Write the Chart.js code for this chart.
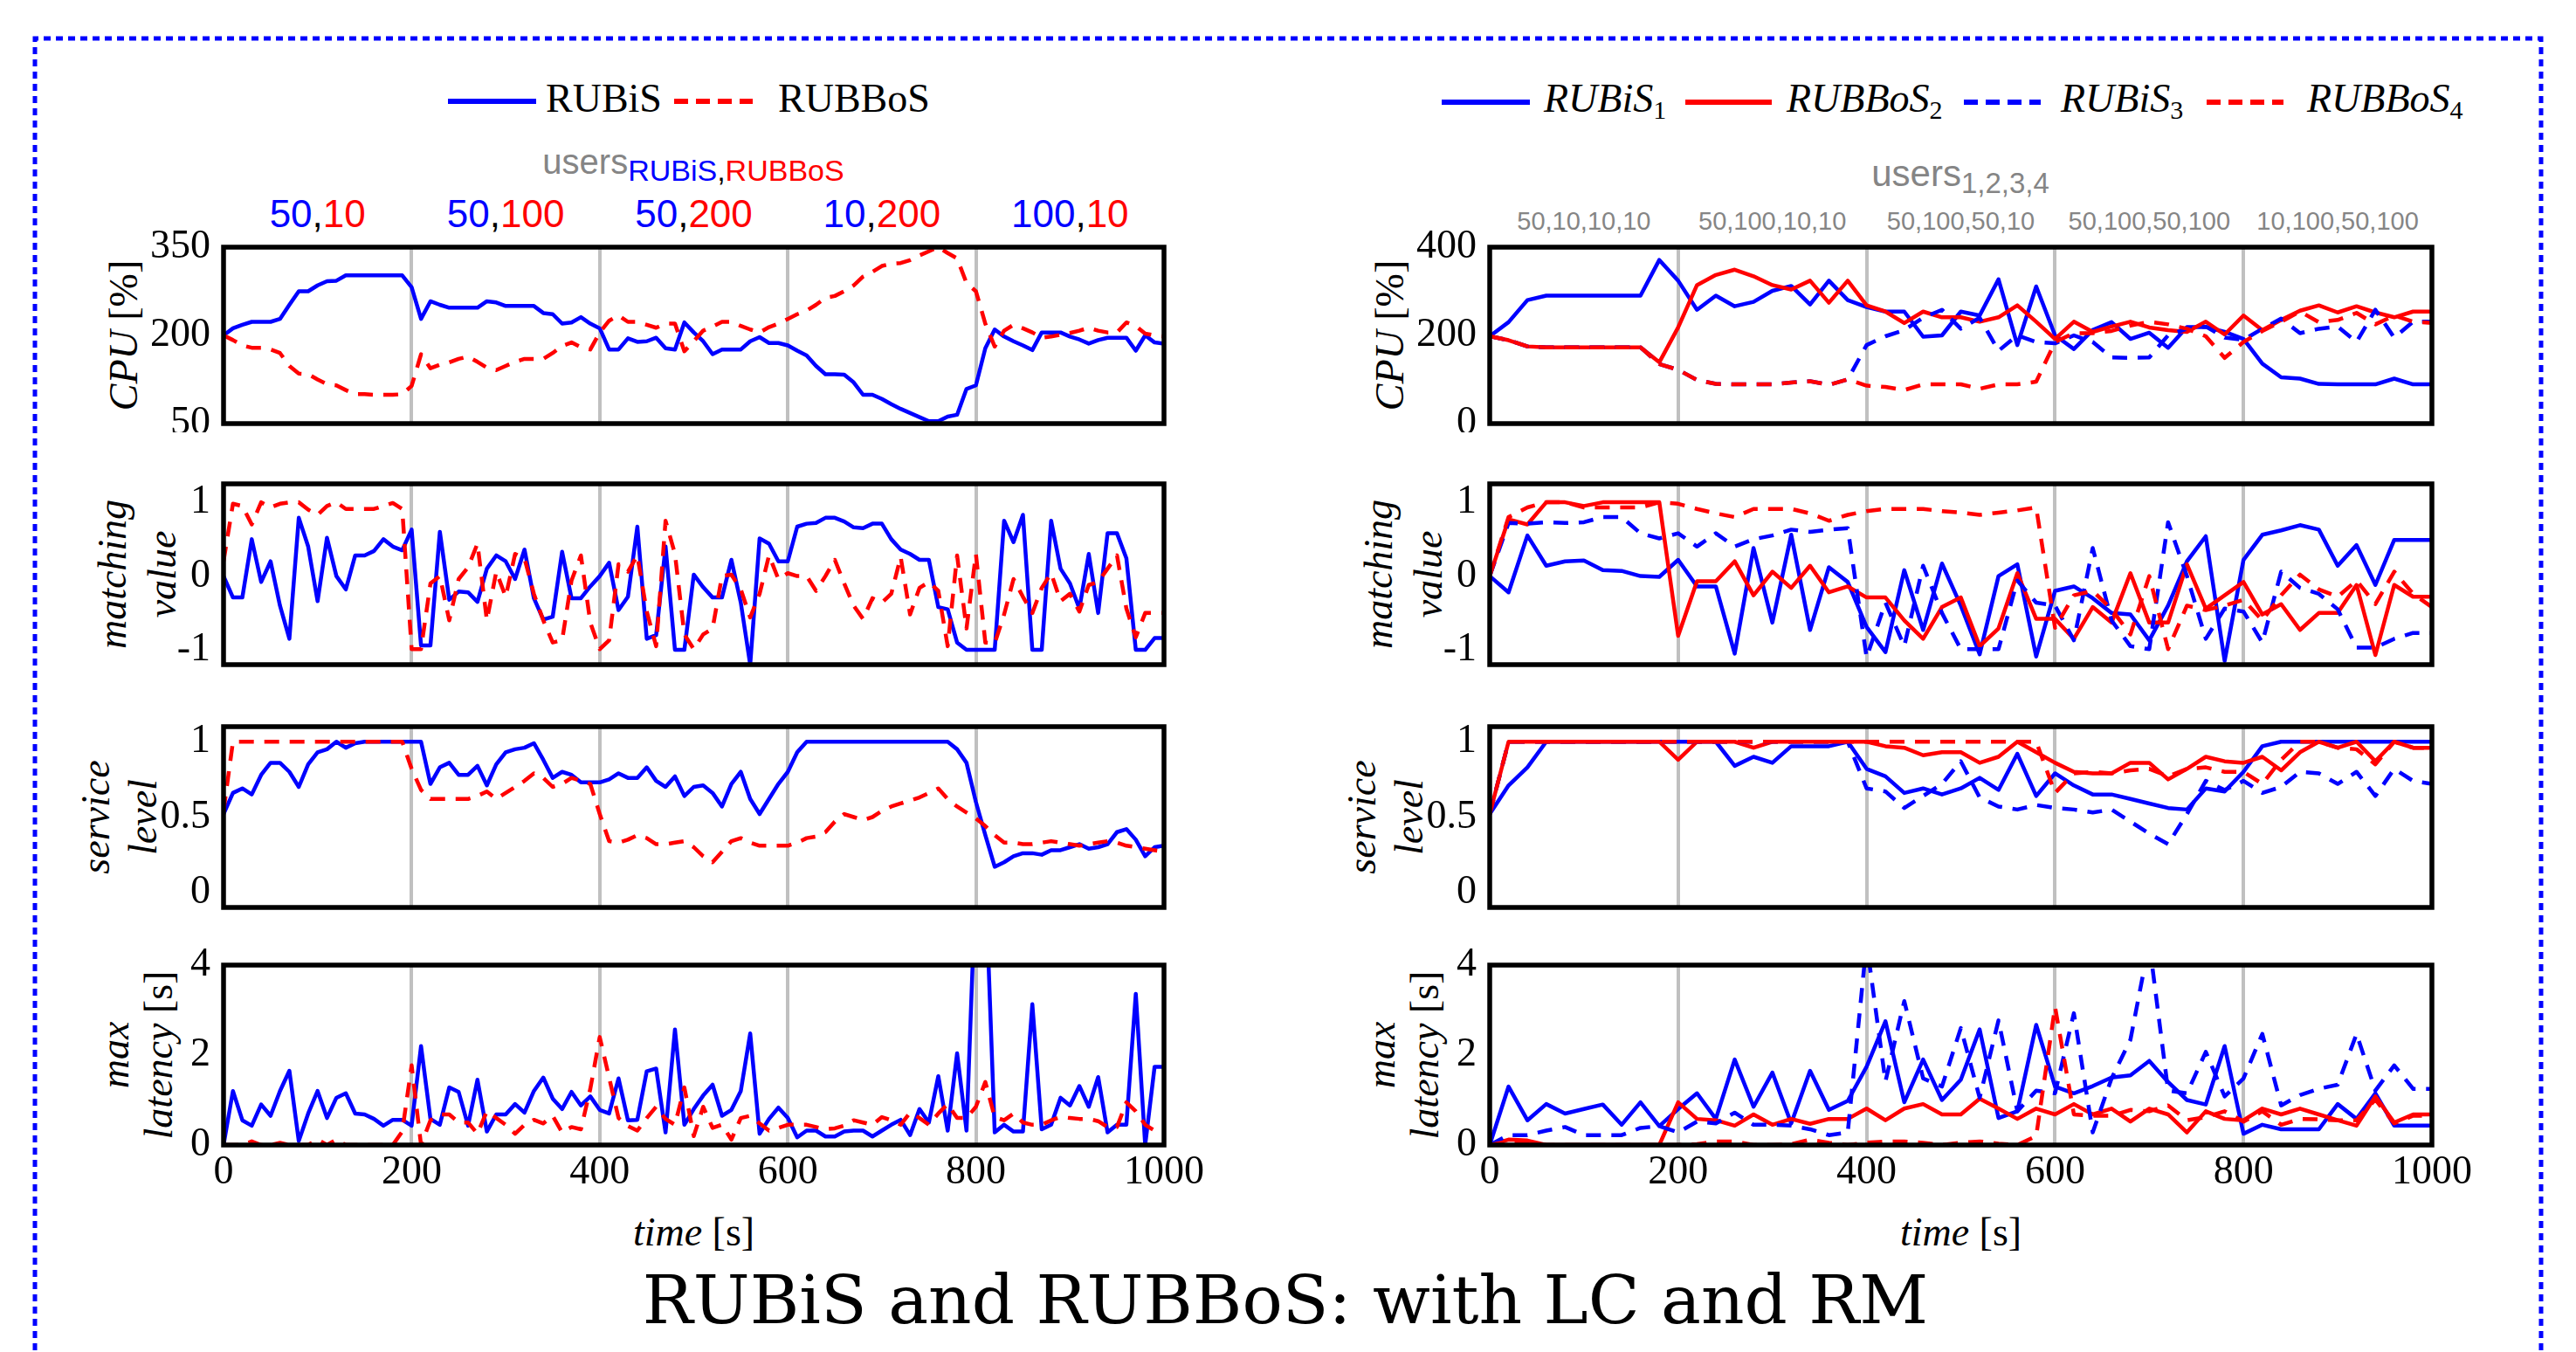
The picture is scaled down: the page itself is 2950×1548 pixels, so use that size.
<!DOCTYPE html>
<html><head><meta charset="utf-8">
<script src="https://cdn.jsdelivr.net/npm/chart.js@4.4.1/dist/chart.umd.min.js"></script>
<style>
html,body{margin:0;padding:0;background:#fff;}
body{width:2950px;height:1548px;position:relative;overflow:hidden;}
#overlay{position:absolute;left:0;top:0;}
</style></head>
<body>
<svg id="overlay" width="2950" height="1548" xmlns="http://www.w3.org/2000/svg"></svg>
<script>
// ---------------- data ----------------
const timeLeft = [0,10,20,30,40,50,60,70,80,90,100,110,120,130,140,150,160,170,180,190,200,210,220,230,240,250,260,270,280,290,300,310,320,330,340,350,360,370,380,390,400,410,420,430,440,450,460,470,480,490,500,510,520,530,540,550,560,570,580,590,600,610,620,630,640,650,660,670,680,690,700,710,720,730,740,750,760,770,780,790,800,810,820,830,840,850,860,870,880,890,900,910,920,930,940,950,960,970,980,990,1000];
const timeRight = [0,20,40,60,80,100,120,140,160,180,200,220,240,260,280,300,320,340,360,380,400,420,440,460,480,500,520,540,560,580,600,620,640,660,680,700,720,740,760,780,800,820,840,860,880,900,920,940,960,980,1000];

const xTicks = [0,200,400,600,800,1000];
const xTickLabels = ['0','200','400','600','800','1000'];
const cpuTicksLeft = [50,200,350];
const cpuTickLabelsLeft = ['50','200','350'];
const cpuTicksRight = [0,200,400];
const cpuTickLabelsRight = ['0','200','400'];
const matchTicks = [-1,0,1];
const matchTickLabels = ['-1','0','1'];
const serviceTicks = [0,0.5,1];
const serviceTickLabels = ['0','0.5','1'];
const latencyTicks = [0,2,4];
const latencyTickLabels = ['0','2','4'];

const usersLeft = [['50','10'],['50','100'],['50','200'],['10','200'],['100','10']];
const usersRight = ['50,10,10,10','50,100,10,10','50,100,50,10','50,100,50,100','10,100,50,100'];
const phaseCenters = [100,300,500,700,900];

// left panel (RUBiS / RUBBoS), every 10 s
const cpuRubisL = [
200,212,218,223,223,223,228,252,275,275,
285,292,293,302,302,302,302,302,302,302,
282,228,258,252,247,247,247,247,258,256,
250,250,250,250,238,236,220,222,231,220,
212,176,176,195,189,190,196,178,176,222,
205,190,168,176,176,176,190,197,187,187,
183,174,166,148,134,134,133,120,99,99,
92,83,75,68,61,54,54,62,65,109,
115,178,210,198,190,183,175,205,205,205,
198,193,186,192,196,196,196,174,200,188,
186];
const cpuRubbosL = [
200,192,183,179,179,176,170,148,135,134,
125,117,115,107,100,100,99,99,99,100,
114,168,144,150,154,160,164,155,145,141,
148,155,160,160,160,170,182,188,180,176,
205,225,234,223,223,218,213,220,220,173,
190,208,215,223,223,216,210,205,214,220,
228,236,242,252,264,267,275,285,300,308,
318,322,323,328,336,343,350,340,331,289,
275,220,181,208,218,212,205,196,198,201,
204,208,213,208,205,205,222,216,203,200,
198];
const matchRubisL = [
0,-0.29,-0.29,0.5,-0.08,0.2,-0.4,-0.85,0.79,0.4,
-0.34,0.52,0,-0.18,0.28,0.28,0.34,0.5,0.4,0.35,
0.63,-0.94,-0.94,0.6,-0.32,-0.21,-0.22,-0.35,0.1,0.28,
0.2,-0.04,0.36,-0.3,-0.59,-0.55,0.33,-0.3,-0.3,-0.14,
0,0.18,-0.46,-0.28,0.67,-0.85,-0.8,0.4,-1,-1,
0.02,-0.15,-0.29,-0.29,0.22,-0.36,-1.2,0.51,0.44,0.2,
0.2,0.67,0.71,0.72,0.79,0.79,0.74,0.66,0.65,0.71,
0.71,0.5,0.36,0.3,0.22,0.22,-0.42,-0.45,-0.9,-1,
-1,-1,-1,0.75,0.46,0.83,-1,-1,0.75,0.1,
-0.1,-0.44,0.3,-0.5,0.58,0.58,0.24,-1,-1,-0.84,
-0.84];
const matchRubbosL = [
0.2,0.98,0.95,0.7,1,0.93,0.98,1,1,0.9,
0.83,0.95,1,0.91,0.91,0.91,0.91,0.95,0.99,0.91,
-0.99,-0.99,-0.1,0,-0.6,-0.04,0.12,0.44,-0.6,0.06,
-0.28,0.3,0.24,-0.24,-0.6,-0.9,-0.87,-0.06,0.28,-0.63,
-0.99,-0.87,0.16,0.06,0.28,-0.48,-0.95,0.75,0.3,-0.79,
-0.99,-0.79,-0.71,0,0.02,-0.18,-0.56,-0.24,0.28,-0.04,
0.04,0,0,-0.2,0,0.22,-0.1,-0.4,-0.58,-0.3,
-0.36,-0.24,0.26,-0.52,-0.16,-0.08,-0.2,-0.95,0.28,-0.71,
0.3,-0.9,-0.91,-0.52,-0.04,-0.28,-0.5,-0.16,0.04,-0.34,
-0.24,-0.48,-0.12,-0.08,0.1,0.28,-0.44,-0.83,-0.5,-0.5,
-0.5];
const serviceRubisL = [
0.52,0.66,0.69,0.65,0.78,0.86,0.86,0.8,0.7,0.85,
0.93,0.95,1,0.96,0.99,1,1,1,1,1,
1,1,0.72,0.83,0.86,0.78,0.78,0.84,0.71,0.85,
0.93,0.95,0.96,0.99,0.88,0.76,0.8,0.78,0.73,0.73,
0.73,0.75,0.79,0.76,0.76,0.83,0.74,0.7,0.77,0.64,
0.7,0.71,0.66,0.57,0.72,0.8,0.62,0.52,0.62,0.72,
0.8,0.93,1,1,1,1,1,1,1,1,
1,1,1,1,1,1,1,1,0.95,0.86,
0.6,0.38,0.17,0.2,0.24,0.26,0.26,0.25,0.28,0.28,
0.3,0.32,0.29,0.3,0.32,0.4,0.42,0.35,0.24,0.3,
0.31];
const serviceRubbosL = [
0.54,1,1,1,1,1,1,1,1,1,
1,1,1,1,1,1,1,1,1,1,
0.82,0.68,0.62,0.62,0.62,0.62,0.62,0.64,0.67,0.62,
0.66,0.7,0.74,0.79,0.76,0.7,0.72,0.76,0.74,0.72,
0.52,0.34,0.33,0.35,0.38,0.36,0.32,0.32,0.33,0.34,
0.3,0.24,0.2,0.27,0.34,0.36,0.33,0.31,0.31,0.31,
0.31,0.33,0.36,0.37,0.4,0.47,0.52,0.5,0.48,0.5,
0.54,0.57,0.59,0.61,0.63,0.66,0.69,0.62,0.57,0.53,
0.49,0.44,0.38,0.33,0.33,0.32,0.32,0.33,0.34,0.33,
0.32,0.31,0.32,0.33,0.34,0.33,0.31,0.3,0.29,0.28,
0.27];
const latencyRubisL = [
0,1.2,0.55,0.43,0.9,0.65,1.2,1.65,0.09,0.7,
1.2,0.6,1.05,1.15,0.7,0.68,0.58,0.43,0.56,0.56,
0.43,2.2,0.58,0.45,1.28,1.18,0.43,1.45,0.3,0.68,
0.68,0.91,0.72,1.2,1.5,1.03,0.8,1.18,0.88,1.08,
0.78,0.7,1.48,0.55,0.56,1.64,1.7,0.28,2.57,0.45,
0.8,1.1,1.34,0.65,0.78,1.2,2.48,0.25,0.58,0.83,
0.6,0.17,0.32,0.32,0.19,0.19,0.3,0.32,0.32,0.19,
0.32,0.45,0.56,0.22,0.8,0.5,1.53,0.32,2.04,0.32,
6,6,0.28,0.45,0.3,0.3,3.13,0.35,0.45,1.05,
0.88,1.31,0.85,1.51,0.28,0.45,0.45,3.36,0,1.74,
1.74];
const latencyRubbosL = [
0,0,0,0.08,0,0,0.05,0,0,0,
0.12,0,0.12,0,0,0,0,0,0,0.3,
1.77,0,0.55,0.68,0.68,0.5,0.5,0.25,0.75,0.6,
0.45,0.25,0.45,0.56,0.48,0.65,0.28,0.4,0.35,1.25,
2.4,1.5,0.6,0.42,0.32,0.6,0.85,0.58,0.45,1.28,
0.2,0.85,0.38,0.45,0.12,0.6,0.65,0.48,0.32,0.38,
0.45,0.45,0.45,0.4,0.35,0.37,0.43,0.55,0.5,0.45,
0.62,0.55,0.45,0.72,0.6,0.45,0.7,0.91,0.6,0.6,
0.85,1.4,0.62,0.55,0.7,0.5,0.45,0.45,0.55,0.62,
0.6,0.58,0.58,0.53,0.4,0.4,0.95,0.75,0.45,0.32,
0.32];

// right panel (4 applications), every 20 s
const cpuR1 = [
198,230,280,290,290,290,290,290,290,371,
324,258,290,266,276,301,312,270,324,280,
264,254,254,197,200,254,245,327,178,311,
200,169,212,230,192,206,172,219,219,208,
192,136,105,102,90,89,89,89,102,89,
89];
const cpuR2 = [
198,189,175,173,173,173,173,173,173,139,
218,314,337,349,334,314,304,324,274,324,
268,254,228,254,241,241,231,241,268,231,
192,231,208,220,231,218,212,208,231,202,
245,212,235,256,268,252,266,252,241,254,
254];
const cpuR3 = [
198,189,175,173,173,173,173,173,173,135,
122,99,90,89,89,89,93,96,88,100,
178,198,212,240,258,215,240,165,200,185,
182,200,185,150,149,150,200,215,220,195,
190,215,238,205,215,220,185,258,195,231,
231];
const cpuR4 = [
198,189,175,173,173,173,173,173,173,135,
122,99,90,89,89,89,93,96,88,100,
86,83,76,89,89,89,79,89,89,95,
185,205,205,210,222,231,225,215,198,149,
185,210,231,254,230,235,251,225,245,231,
228];
const matchR1 = [
0,-0.22,0.55,0.14,0.2,0.21,0.08,0.07,0,-0.01,
0.22,-0.14,-0.14,-1.05,0.38,-0.63,0.56,-0.73,0.12,-0.08,
-0.69,-1.03,0.08,-0.73,0.17,-0.4,-1.06,0,0.16,-1.09,
-0.2,-0.14,-0.3,-0.5,-0.52,-0.87,-0.4,0.2,0.54,-1.15,
0.22,0.56,0.62,0.69,0.63,0.14,0.42,-0.12,0.49,0.49,
0.49];
const matchR2 = [
0,0.77,0.7,1,1,0.95,1,1,1,1,
-0.81,-0.07,-0.07,0.2,-0.26,0.06,-0.16,0.14,-0.22,-0.14,
-0.29,-0.29,-0.6,-0.85,-0.42,-0.29,-0.95,-0.71,0.04,-0.58,
-0.58,-0.85,-0.42,-0.63,0.04,-0.63,-0.63,0.16,-0.44,-0.26,
-0.08,-0.52,-0.38,-0.73,-0.5,-0.5,-0.12,-1.07,-0.12,-0.28,
-0.28];
const matchR3 = [
0,0.72,0.71,0.73,0.72,0.73,0.8,0.8,0.58,0.51,
0.58,0.4,0.58,0.4,0.5,0.55,0.63,0.6,0.63,0.65,
-1.1,-0.36,-0.95,0.14,-0.5,-0.99,-0.99,-0.99,-0.06,-0.36,
-0.4,-0.87,0.38,-0.6,-0.95,-0.99,0.73,0,-0.85,-0.44,
-0.48,-0.9,0.06,-0.16,-0.24,-0.45,-0.97,-0.97,-0.85,-0.77,
-0.77];
const matchR4 = [
0,0.8,0.93,1,1,0.93,0.93,0.93,0.93,1,
0.98,0.91,0.85,0.8,0.91,0.91,0.91,0.85,0.75,0.83,
0.88,0.91,0.91,0.91,0.88,0.86,0.83,0.86,0.89,0.93,
-0.7,-0.26,-0.2,-0.45,-0.79,0,-0.99,-0.4,-0.46,-0.4,
-0.32,-0.6,-0.26,0.02,-0.18,-0.28,-0.06,-0.38,0.06,-0.24,
-0.42];
const serviceR1 = [
0.52,0.71,0.83,1,1,1,1,1,1,1,
1,1,1,0.84,0.9,0.86,0.97,0.97,0.97,1,
0.82,0.77,0.66,0.69,0.65,0.69,0.76,0.68,0.92,0.64,
0.79,0.71,0.65,0.65,0.62,0.59,0.56,0.55,0.69,0.67,
0.8,0.97,1,1,1,1,1,1,1,1,
1];
const serviceR2 = [
0.52,1,1,1,1,1,1,1,1,1,
0.88,1,1,1,0.96,1,1,1,1,1,
1,0.97,0.96,0.91,0.93,0.93,0.86,0.9,1,0.93,
0.86,0.8,0.79,0.79,0.86,0.86,0.75,0.82,0.9,0.87,
0.86,0.9,0.81,0.93,1,0.96,1,0.87,1,0.96,
0.96];
const serviceR3 = [
0.52,1,1,1,1,1,1,1,1,1,
1,1,1,1,1,1,1,1,1,1,
0.69,0.67,0.56,0.64,0.72,0.87,0.63,0.57,0.55,0.58,
0.56,0.55,0.53,0.55,0.47,0.39,0.32,0.52,0.74,0.68,
0.74,0.66,0.7,0.8,0.79,0.72,0.8,0.64,0.82,0.74,
0.72];
const serviceR4 = [
0.52,1,1,1,1,1,1,1,1,1,
1,1,1,1,1,1,1,1,1,1,
1,1,1,1,1,1,1,1,1,1,
0.66,0.79,0.8,0.79,0.81,0.82,0.77,0.82,0.83,0.8,
0.8,0.72,0.88,1,1,0.96,0.95,0.85,1,0.96,
0.96];
const latencyR1 = [
0,1.3,0.55,0.91,0.7,0.8,0.9,0.45,0.95,0.42,
0.8,1.15,0.58,1.9,0.85,1.61,0.48,1.65,0.78,0.98,
1.74,2.75,0.95,1.9,1.0,1.45,2.57,0.6,0.75,2.67,
1.3,1.15,1.31,1.5,1.55,1.87,1.4,1.0,0.9,2.2,
0.25,0.45,0.35,0.35,0.35,0.91,0.58,1.15,0.43,0.43,
0.43];
const latencyR2 = [
0,0.12,0.1,0,0,0,0,0,0,0,
0.95,0.58,0.55,0.43,0.68,0.45,0.58,0.47,0.58,0.58,
0.81,0.55,0.81,0.91,0.68,0.68,1.03,0.81,0.58,0.81,
0.68,0.91,0.68,0.81,0.52,0.81,0.68,0.28,0.75,0.58,
0.55,0.81,0.68,0.81,0.68,0.55,0.43,1.08,0.5,0.68,
0.68];
const latencyR3 = [
0,0.22,0.22,0.32,0.4,0.22,0.22,0.22,0.38,0.42,
0.28,0.52,0.48,0.72,0.45,0.45,0.43,0.35,0.22,0.28,
4.5,1.41,3.2,1.48,1.3,2.6,1.05,2.77,0.75,1.21,
1.15,2.93,0.28,1.48,2.34,4.5,1.21,1.15,2.07,1.08,
1.48,2.47,0.88,1.11,1.25,1.34,2.47,1.21,1.77,1.25,
1.25];
const latencyR4 = [
0,0.08,0.04,0,0,0,0,0,0,0,
0,0.02,0.08,0.08,0,0,0.02,0.12,0.05,0,
0.05,0.08,0.08,0.05,0,0.05,0.08,0.03,0,0.2,
3.07,0.68,0.65,0.65,0.78,0.75,0.88,0.55,0.62,0.75,
0.52,0.75,0.45,0.58,0.57,0.55,0.55,1.01,0.48,0.65,
0.65];

// ---------------- layout ----------------
const BLUE = '#0000ff', RED = '#ff0000';
const COLS = { L: {plotL: 256, plotR: 1333}, R: {plotL: 1706, plotR: 2785} };
const ROWS = [[283, 485], [554, 761], [832, 1039], [1105, 1311]];
const Y_AXIS_W = 256, PAD_TOP = 40, PAD_RIGHT = 80;
const SERIF = 'Liberation Serif';

const framePlugin = {
  id: 'frame',
  afterDatasetsDraw(chart) {
    const {ctx, chartArea: a} = chart;
    ctx.save();
    ctx.strokeStyle = '#000';
    ctx.lineWidth = 5.5;
    ctx.strokeRect(a.left, a.top, a.right - a.left, a.bottom - a.top);
    ctx.restore();
  }
};

function series(times, values, color, dashed, order) {
  return {
    data: times.map((t, i) => ({x: t, y: values[i]})),
    borderColor: color,
    borderWidth: 4.5,
    borderDash: dashed ? [17, 12] : [],
    borderJoinStyle: 'round',
    borderCapStyle: 'butt',
    pointRadius: 0,
    tension: 0,
    fill: false,
    order: order
  };
}

function makePlot(col, row, yMin, yMax, yTicks, yLabels, datasets) {
  const c = COLS[col];
  const [rt, rb] = ROWS[row];
  const isBottom = row === 3;
  const xH = isBottom ? 90 : 10;
  const left = c.plotL - Y_AXIS_W, top = rt - PAD_TOP;
  const width = c.plotR - left + PAD_RIGHT, height = rb - rt + PAD_TOP + xH;
  const canvas = document.createElement('canvas');
  canvas.width = width; canvas.height = height;
  canvas.style.cssText = `position:absolute;left:${left}px;top:${top}px;width:${width}px;height:${height}px;`;
  document.body.appendChild(canvas);
  new Chart(canvas, {
    type: 'line',
    data: {datasets},
    options: {
      responsive: false, animation: false, devicePixelRatio: 1, events: [],
      layout: {autoPadding: false, padding: {left: 0, top: PAD_TOP, right: PAD_RIGHT, bottom: 0}},
      plugins: {legend: {display: false}, tooltip: {enabled: false}},
      scales: {
        x: {
          type: 'linear', position: 'bottom', min: 0, max: 1000,
          afterBuildTicks: s => { s.ticks = xTicks.map(v => ({value: v})); },
          ticks: {display: isBottom, autoSkip: false, maxRotation: 0, padding: 4, color: '#000',
                  font: {family: SERIF, size: 46},
                  callback: (v, i) => xTickLabels[i]},
          grid: {color: '#c0c0c0', lineWidth: 4, drawTicks: false},
          border: {display: false},
          afterFit: s => { s.height = xH; s.paddingLeft = 0; s.paddingRight = 0; }
        },
        y: {
          type: 'linear', position: 'left', min: yMin, max: yMax,
          afterBuildTicks: s => { s.ticks = yTicks.map(v => ({value: v})); },
          ticks: {padding: 15, color: '#000', font: {family: SERIF, size: 46},
                  callback: (v, i) => yLabels[i]},
          grid: {display: false, drawTicks: false},
          border: {display: false},
          afterFit: s => { s.width = Y_AXIS_W; s.paddingTop = 0; s.paddingBottom = 0; }
        }
      }
    },
    plugins: [framePlugin]
  });
}

// left panel: blue below, red dashed on top
makePlot('L', 0, 50, 350, cpuTicksLeft, cpuTickLabelsLeft,
  [series(timeLeft, cpuRubisL, BLUE, false, 1), series(timeLeft, cpuRubbosL, RED, true, 0)]);
makePlot('L', 1, -1.2, 1.25, matchTicks, matchTickLabels,
  [series(timeLeft, matchRubisL, BLUE, false, 1), series(timeLeft, matchRubbosL, RED, true, 0)]);
makePlot('L', 2, -0.1, 1.1, serviceTicks, serviceTickLabels,
  [series(timeLeft, serviceRubisL, BLUE, false, 1), series(timeLeft, serviceRubbosL, RED, true, 0)]);
makePlot('L', 3, 0, 4, latencyTicks, latencyTickLabels,
  [series(timeLeft, latencyRubisL, BLUE, false, 1), series(timeLeft, latencyRubbosL, RED, true, 0)]);

function rightSets(a, b, c, d) {
  return [series(timeRight, a, BLUE, false, 3), series(timeRight, b, RED, false, 2),
          series(timeRight, c, BLUE, true, 1), series(timeRight, d, RED, true, 0)];
}
makePlot('R', 0, 0, 400, cpuTicksRight, cpuTickLabelsRight, rightSets(cpuR1, cpuR2, cpuR3, cpuR4));
makePlot('R', 1, -1.2, 1.25, matchTicks, matchTickLabels, rightSets(matchR1, matchR2, matchR3, matchR4));
makePlot('R', 2, -0.1, 1.1, serviceTicks, serviceTickLabels, rightSets(serviceR1, serviceR2, serviceR3, serviceR4));
makePlot('R', 3, 0, 4, latencyTicks, latencyTickLabels, rightSets(latencyR1, latencyR2, latencyR3, latencyR4));

// ---------------- annotations (SVG text) ----------------
const svg = document.getElementById('overlay');
let h = '';
// dotted frame
h += `<path d="M40,1560 L40,44 L2910,44 L2910,1560" fill="none" stroke="${BLUE}" stroke-width="5" stroke-dasharray="8 6"/>`;
// left legend
h += `<line x1="513" y1="116" x2="614" y2="116" stroke="${BLUE}" stroke-width="6"/>`;
h += `<text x="625" y="128" font-family="${SERIF}" font-size="46" fill="#000">RUBiS</text>`;
h += `<line x1="772" y1="116" x2="862" y2="116" stroke="${RED}" stroke-width="6" stroke-dasharray="16 9"/>`;
h += `<text x="891" y="128" font-family="${SERIF}" font-size="46" fill="#000">RUBBoS</text>`;
// right legend
const rLeg = [
  {x1: 1651, x2: 1752, tx: 1768, c: BLUE, d: false, name: 'RUBiS', sub: '1'},
  {x1: 1930, x2: 2029, tx: 2046, c: RED, d: false, name: 'RUBBoS', sub: '2'},
  {x1: 2249, x2: 2337, tx: 2360, c: BLUE, d: true, name: 'RUBiS', sub: '3'},
  {x1: 2527, x2: 2615, tx: 2642, c: RED, d: true, name: 'RUBBoS', sub: '4'}
];
rLeg.forEach(l => {
  h += `<line x1="${l.x1}" y1="117" x2="${l.x2}" y2="117" stroke="${l.c}" stroke-width="6"${l.d ? ' stroke-dasharray="16 9"' : ''}/>`;
  h += `<text x="${l.tx}" y="128" font-family="${SERIF}" font-size="46" font-style="italic" fill="#000">${l.name}<tspan font-size="30" font-style="normal" dy="8">${l.sub}</tspan></text>`;
});
// users headers
h += `<text x="794" y="199" text-anchor="middle" font-family="Liberation Sans" font-size="40" fill="#858585">users<tspan font-size="34" dy="8" fill="${BLUE}">RUBiS</tspan><tspan font-size="34" fill="#000">,</tspan><tspan font-size="34" fill="${RED}">RUBBoS</tspan></text>`;
h += `<text x="2245" y="213" text-anchor="middle" font-family="Liberation Sans" font-size="42" fill="#858585">users<tspan font-size="33" dy="8">1,2,3,4</tspan></text>`;
// phase labels
const xL = t => COLS.L.plotL + (COLS.L.plotR - COLS.L.plotL) * t / 1000;
const xR = t => COLS.R.plotL + (COLS.R.plotR - COLS.R.plotL) * t / 1000;
usersLeft.forEach((u, i) => {
  h += `<text x="${xL(phaseCenters[i])}" y="260" text-anchor="middle" font-family="Liberation Sans" font-size="44"><tspan fill="${BLUE}">${u[0]}</tspan><tspan fill="#000">,</tspan><tspan fill="${RED}">${u[1]}</tspan></text>`;
});
usersRight.forEach((u, i) => {
  h += `<text x="${xR(phaseCenters[i])}" y="263" text-anchor="middle" font-family="Liberation Sans" font-size="29" fill="#858585">${u}</text>`;
});
// y-axis titles
const rowMid = ROWS.map(r => (r[0] + r[1]) / 2);
const yTitles = [
  [{b: 157, html: '<tspan font-style="italic">CPU</tspan> [%]'}],
  [{b: 144, html: '<tspan font-style="italic">matching</tspan>'}, {b: 201, html: '<tspan font-style="italic">value</tspan>'}],
  [{b: 125, html: '<tspan font-style="italic">service</tspan>'}, {b: 179, html: '<tspan font-style="italic">level</tspan>'}],
  [{b: 147, html: '<tspan font-style="italic">max</tspan>'}, {b: 197, html: '<tspan font-style="italic">latency</tspan> [s]'}]
];
['L', 'R'].forEach(col => {
  const off = COLS[col].plotL - COLS.L.plotL;
  yTitles.forEach((lines, r) => {
    lines.forEach(l => {
      h += `<text transform="translate(${l.b + off},${rowMid[r]}) rotate(-90)" text-anchor="middle" font-family="${SERIF}" font-size="46" fill="#000">${l.html}</text>`;
    });
  });
  const cx = (COLS[col].plotL + COLS[col].plotR) / 2;
  h += `<text x="${cx}" y="1426" text-anchor="middle" font-family="${SERIF}" font-size="46" fill="#000"><tspan font-style="italic">time</tspan> [s]</text>`;
});
// main title
h += `<text x="1472" y="1515" text-anchor="middle" font-family="DejaVu Serif" font-size="77" fill="#000">RUBiS and RUBBoS: with LC and RM</text>`;
svg.innerHTML = h;
</script>
</body></html>
